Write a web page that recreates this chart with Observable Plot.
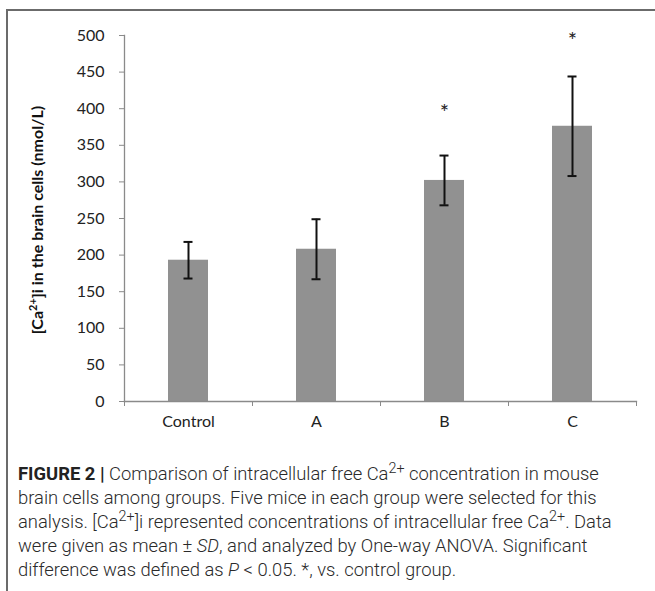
<!DOCTYPE html>
<html>
<head>
<meta charset="utf-8">
<script src="https://cdn.jsdelivr.net/npm/d3@7"></script>
<script src="https://cdn.jsdelivr.net/npm/@observablehq/plot@0.6"></script>
<style>
  html, body { margin: 0; padding: 0; background: #fff; }
  body { width: 655px; height: 591px; position: relative; overflow: hidden; }
  #frame { position: absolute; left: 6px; top: 9px; width: 700px; height: 700px;
           border-top: 2px solid #6b6b6b; border-left: 2px solid #6b6b6b; }
  #chart { position: absolute; left: 0; top: 0; }
  #caption { position: absolute; left: 18px; top: 462px; font-family: Roboto, "Liberation Sans", sans-serif;
             font-size: 18.4px; font-weight: 300; line-height: 24px; color: #2a2a2a; white-space: nowrap; }
  #caption sup { font-size: 0.78em; line-height: 0; vertical-align: 0.5em; }
  #caption b { font-weight: 700; color: #222; }
</style>
</head>
<body>
<div id="frame"></div>
<div id="chart"></div>
<div id="caption">
  <div><b>FIGURE 2 |</b> Comparison of intracellular free Ca<sup>2+</sup> concentration in mouse</div>
  <div>brain cells among groups. Five mice in each group were selected for this</div>
  <div>analysis. [Ca<sup>2+</sup>]i represented concentrations of intracellular free Ca<sup>2+</sup>. Data</div>
  <div>were given as mean ± <i>SD</i>, and analyzed by One-way ANOVA. Significant</div>
  <div>difference was defined as <i>P</i> &lt; 0.05. *, vs. control group.</div>
</div>
<script>
const groups = ["Control", "A", "B", "C"];
const means = [193, 208, 302, 376];
const sds = [25, 41, 34, 68];
const starY = [null, null, 398, 496];
const yTicks = [0, 50, 100, 150, 200, 250, 300, 350, 400, 450, 500];

const data = groups.map((g, i) => ({group: g, mean: means[i], lo: means[i] - sds[i], hi: means[i] + sds[i], star: starY[i]}));
const stars = data.filter(d => d.star != null);

const font = "Lato, 'Open Sans', sans-serif";
const axisColor = "#8a8a8a";

const plot = Plot.plot({
  width: 655,
  height: 445,
  marginTop: 35,
  marginBottom: 44,
  marginLeft: 124,
  marginRight: 19,
  style: {fontFamily: font, fontSize: "16px", fontWeight: "400", color: "#222", background: "transparent"},
  x: {domain: groups, padding: 0, label: null},
  y: {domain: [0, 500], label: null},
  marks: [
    Plot.barY(data, {x: "group", y: "mean", fill: "#919191", insetLeft: 44, insetRight: 44}),
    Plot.ruleX(data, {x: "group", y1: "lo", y2: "hi", stroke: "#111", strokeWidth: 2}),
    Plot.tickY(data, {x: "group", y: "hi", stroke: "#111", strokeWidth: 2, insetLeft: 59.5, insetRight: 59.5}),
    Plot.tickY(data, {x: "group", y: "lo", stroke: "#111", strokeWidth: 2, insetLeft: 59.5, insetRight: 59.5}),
    Plot.text(stars, {x: "group", y: "star", text: () => "*", fontSize: 22, dy: 3, fill: "#222"}),
    Plot.axisY({ticks: yTicks, tickSize: 5, tickPadding: 15, stroke: axisColor, fill: "#222", fontSize: 16}),
    Plot.axisX({ticks: groups, tickSize: 0, tickPadding: 14, fill: "#222", fontSize: 16}),
    Plot.axisX({ticks: groups, tickSize: 5, tickFormat: () => "", dx: -64, stroke: axisColor}),
    Plot.axisX({ticks: ["C"], tickSize: 5, tickFormat: () => "", dx: 64, stroke: axisColor}),
    Plot.frame({anchor: "left", stroke: axisColor, strokeWidth: 1.3}),
    Plot.frame({anchor: "bottom", stroke: axisColor, strokeWidth: 1.3})
  ]
});
document.getElementById("chart").appendChild(plot);

// y-axis title with superscript
const svg = d3.select(plot);
const t = svg.append("text")
  .attr("transform", "translate(43,220) rotate(-90)")
  .attr("text-anchor", "middle")
  .attr("font-family", font)
  .attr("font-weight", "bold")
  .attr("font-size", 16)
  .attr("fill", "#111");
t.append("tspan").text("[Ca");
t.append("tspan").attr("baseline-shift", "super").attr("font-size", 11).text("2+");
t.append("tspan").text("]i in the brain cells (nmol/L)");
</script>
</body>
</html>
